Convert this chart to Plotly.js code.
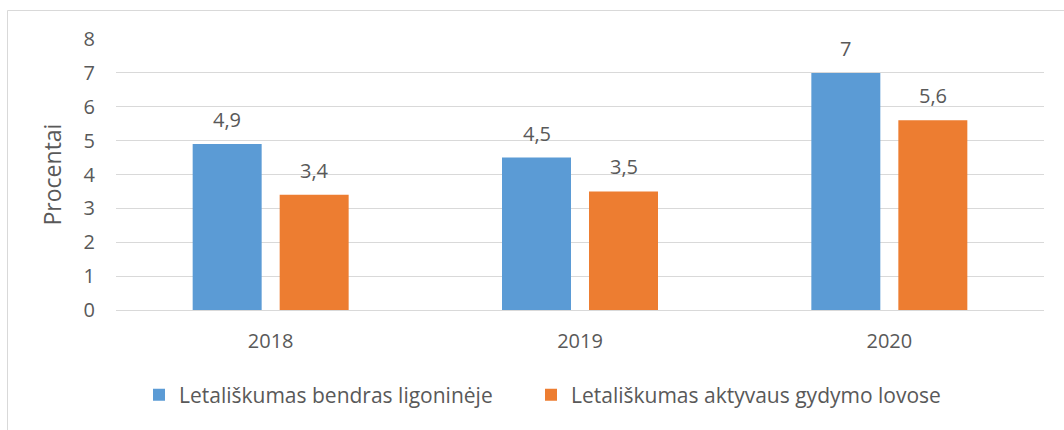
<!DOCTYPE html>
<html>
<head>
<meta charset="utf-8">
<script src="https://cdn.plot.ly/plotly-3.0.1.min.js"></script>
<style>
html,body{margin:0;padding:0;background:#fff;}
#chart{width:1064px;height:430px;}
</style>
</head>
<body>
<div id="chart"></div>
<script>
const categories = ['2018', '2019', '2020'];
const seriesNames = ['Letališkumas bendras ligoninėje', 'Letališkumas aktyvaus gydymo lovose'];
const bendras = [4.9, 4.5, 7];
const aktyvaus = [3.4, 3.5, 5.6];
const yTickValues = [0, 1, 2, 3, 4, 5, 6, 7, 8];
const yAxisTitle = 'Procentai';

const colors = ['#5B9BD5', '#ED7D31'];
const seriesValues = [bendras, aktyvaus];
const fontFamily = '"Open Sans", sans-serif';
const textColor = '#595959';
const fs = 20;
const legendIds = ['legend', 'legend2'];

const traces = seriesValues.map((vals, k) => ({
  type: 'bar',
  name: seriesNames[k],
  x: categories,
  y: vals,
  legend: legendIds[k],
  marker: {color: colors[k], line: {width: 0}},
  hoverinfo: 'skip'
}));

const fmt = v => String(v).replace('.', ',');
const W = 1064, H = 430;
const margin = {l: 116, r: 20, t: 39, b: 120};
const plotW = W - margin.l - margin.r;
const plotH = H - margin.t - margin.b;
const catW = plotW / categories.length;
const bargap = 0.4375;
const slot = catW * (1 - bargap) / 2;

const annotations = [];
seriesValues.forEach((vals, k) => {
  vals.forEach((v, i) => {
    annotations.push({
      x: i, y: v, xref: 'x', yref: 'y',
      xshift: (k === 0 ? -1 : 1) * slot / 2,
      yshift: 9,
      yanchor: 'bottom',
      text: fmt(v),
      showarrow: false,
      font: {family: fontFamily, size: fs, color: textColor}
    });
  });
});

const px2x = p => (p - margin.l) / plotW;
const py2y = p => (H - margin.b - p) / plotH;

const legendBase = {
  orientation: 'h',
  xanchor: 'left',
  y: py2y(395), yanchor: 'middle',
  font: {family: fontFamily, size: 21, color: textColor},
  bgcolor: 'rgba(0,0,0,0)'
};

const layout = {
  width: W, height: H,
  margin: margin,
  paper_bgcolor: '#ffffff',
  plot_bgcolor: '#ffffff',
  font: {family: fontFamily, size: fs, color: textColor},
  barmode: 'group',
  bargap: bargap,
  bargroupgap: 0.207,
  showlegend: true,
  legend: Object.assign({}, legendBase, {x: px2x(139)}),
  legend2: Object.assign({}, legendBase, {x: px2x(531)}),
  xaxis: {
    type: 'category',
    categoryarray: categories,
    range: [-0.5, categories.length - 0.5],
    autorange: false,
    showgrid: false,
    showline: false,
    ticks: '',
    ticklabelstandoff: 17,
    tickfont: {family: fontFamily, size: fs, color: textColor},
    fixedrange: true
  },
  yaxis: {
    range: [0, 8],
    autorange: false,
    tickvals: yTickValues,
    ticktext: yTickValues.map(String),
    showgrid: true,
    gridcolor: '#d9d9d9',
    gridwidth: 1,
    zeroline: true,
    zerolinecolor: '#d9d9d9',
    zerolinewidth: 1,
    showline: false,
    ticks: '',
    ticklabelstandoff: 20,
    tickfont: {family: fontFamily, size: fs, color: textColor},
    title: {text: yAxisTitle, standoff: 15, font: {family: fontFamily, size: 23, color: textColor}},
    automargin: false,
    fixedrange: true
  },
  annotations: annotations,
  shapes: [{
    type: 'rect', xref: 'paper', yref: 'paper',
    x0: px2x(7.5), x1: px2x(1080), y0: py2y(450), y1: py2y(10.5),
    line: {color: '#d9d9d9', width: 1},
    fillcolor: 'rgba(0,0,0,0)',
    layer: 'below'
  }]
};

Plotly.newPlot('chart', traces, layout, {displayModeBar: false, staticPlot: true});
</script>
</body>
</html>
